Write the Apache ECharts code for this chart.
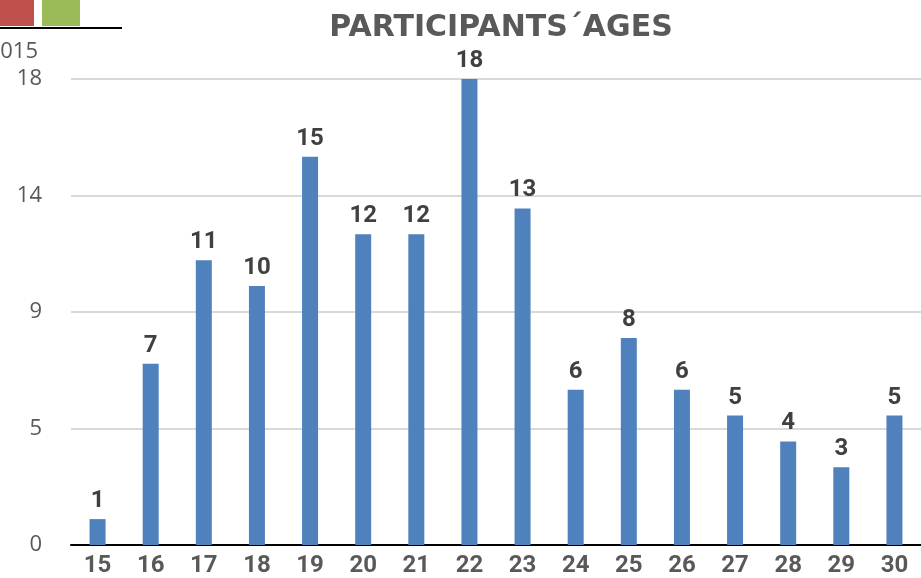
<!DOCTYPE html>
<html>
<head>
<meta charset="utf-8">
<script src="https://cdn.jsdelivr.net/npm/echarts@6/dist/echarts.min.js"></script>
<style>
html,body{margin:0;padding:0;background:#fff;}
#chart{width:921px;height:578px;}
</style>
</head>
<body>
<div id="chart"></div>
<script>
const categories = ['15','16','17','18','19','20','21','22','23','24','25','26','27','28','29','30'];
const participants = [1,7,11,10,15,12,12,18,13,6,8,6,5,4,3,5];
const yTickValues = [0,4.5,9,13.5,18];
const yTickLabels = ['0','5','9','14','18'];
const titleText = 'PARTICIPANTS\u00B4AGES';
const yearText = '2015';

const chart = echarts.init(document.getElementById('chart'));
chart.setOption({
  animation:false,
  backgroundColor:'#ffffff',
  title:{
    text:titleText,
    left:496, top:8, textAlign:'center',
    textStyle:{fontFamily:'DejaVu Sans', fontWeight:'bold', fontSize:30, color:'#595959'}
  },
  graphic:[
    {type:'rect', shape:{x:0,y:0,width:34,height:26}, style:{fill:'#c0504d'}},
    {type:'rect', shape:{x:42,y:0,width:38,height:26}, style:{fill:'#9bbb59'}},
    {type:'line', shape:{x1:0,y1:28,x2:122,y2:28}, style:{stroke:'#000',lineWidth:2}},
    {type:'text', x:38, y:52, style:{text:yearText, align:'right', verticalAlign:'middle', fontFamily:'Open Sans', fontSize:22, fill:'#595959'}}
  ],
  grid:{left:71, right:0, top:79, bottom:33, containLabel:false},
  xAxis:{
    type:'category', data:categories,
    axisLine:{lineStyle:{color:'#000', width:2}},
    axisTick:{show:false},
    axisLabel:{fontFamily:'Liberation Sans Narrow, Roboto', fontWeight:'bold', fontSize:24, color:'#595959', margin:9}
  },
  yAxis:{
    type:'value', min:0, max:18, interval:4.5,
    axisLine:{show:false}, axisTick:{show:false},
    splitLine:{lineStyle:{color:'#d9d9d9', width:2}},
    axisLabel:{
      fontFamily:'Open Sans', fontSize:22, color:'#595959', margin:29,
      formatter:function(v){const i=yTickValues.indexOf(v);return i>=0?yTickLabels[i]:'';}
    }
  },
  series:[{
    type:'bar', data:participants, barWidth:16,
    itemStyle:{color:'#4f81bd'},
    label:{show:true, position:'top', distance:6, fontFamily:'Liberation Sans Narrow, Roboto', fontWeight:'bold', fontSize:24, color:'#404040'}
  }]
});
</script>
</body>
</html>
